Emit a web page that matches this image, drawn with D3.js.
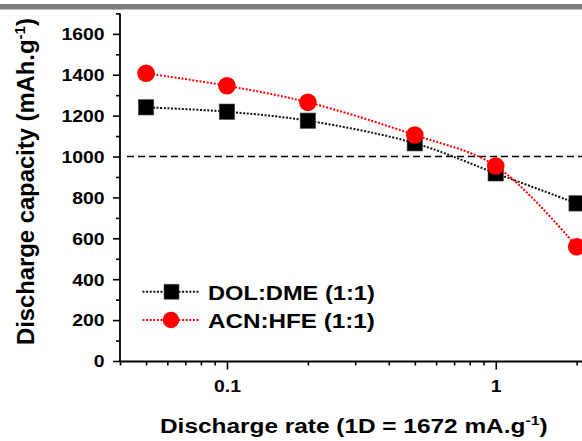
<!DOCTYPE html>
<html><head><meta charset="utf-8">
<script src="https://cdn.jsdelivr.net/npm/d3@7"></script>
<style>
html,body{margin:0;padding:0;background:#fff;overflow:hidden;}
svg{display:block;font-family:"Liberation Sans",Arial,sans-serif;font-weight:bold;}
</style>
</head><body>
<svg id="c" width="582" height="441"></svg>
<script>
// ---- data ----
const rates = [0.05, 0.1, 0.2, 0.5, 1, 2];
const dolDme = [1241, 1219, 1175, 1065, 918, 771];
const acnHfe = [1407, 1346, 1265, 1105, 954, 559];
const seriesNames = ["DOL:DME (1:1)", "ACN:HFE (1:1)"];
const yMajorTicks = [0, 200, 400, 600, 800, 1000, 1200, 1400, 1600];
const yMinorTicks = [100, 300, 500, 700, 900, 1100, 1300, 1500, 1700];
const xMajorTicks = [0.1, 1];
const xTickLabels = ["0.1", "1"];
const xMinorTicks = [0.04, 0.05, 0.06, 0.07, 0.08, 0.09, 0.2, 0.3, 0.4, 0.5, 0.6, 0.7, 0.8, 0.9, 2, 3];
const refValue = 1000;

const svg = d3.select("#c");
svg.append("rect").attr("width", 582).attr("height", 441).attr("fill", "#fff");
svg.append("rect").attr("x", 0).attr("y", 4).attr("width", 582).attr("height", 5.5).attr("fill", "#7d7d7d");

const x = d3.scaleLog().domain([0.04, 3]).range([120, 624]);
const y = d3.scaleLinear().domain([0, 1700]).range([361, 13.4]);
const axisY = 361.5, axisX = 120;

// clip region for plot content
svg.append("defs").append("clipPath").attr("id", "clip")
  .append("rect").attr("x", 120).attr("y", 0).attr("width", 470).attr("height", 362);

// reference dashed line
svg.append("line")
  .attr("x1", 127).attr("x2", 590)
  .attr("y1", y(refValue)).attr("y2", y(refValue))
  .attr("stroke", "#000").attr("stroke-width", 1.6).attr("stroke-dasharray", "7,4");

// axes
function styleAxis(g) {
  g.select(".domain").attr("stroke", "#000").attr("stroke-width", 1.8);
  g.selectAll(".tick line").attr("stroke", "#000").attr("stroke-width", 1.6);
}
const gyMinor = svg.append("g").attr("transform", `translate(${axisX},0)`)
  .call(d3.axisLeft(y).tickValues(yMinorTicks).tickSize(4).tickSizeOuter(0).tickFormat(""));
styleAxis(gyMinor);
const gy = svg.append("g").attr("transform", `translate(${axisX},0)`)
  .call(d3.axisLeft(y).tickValues(yMajorTicks).tickSize(7).tickSizeOuter(0).tickFormat(d3.format("d")));
styleAxis(gy);
gy.select(".domain").attr("d", `M0,${y(1700)}V${axisY}`);
gy.selectAll(".tick text").attr("x", -15.5).attr("dy", "0.36em")
  .attr("font-size", 16.3).attr("font-weight", "bold").attr("fill", "#000")
  .attr("font-family", '"Liberation Sans",Arial,sans-serif');

const gxMinor = svg.append("g").attr("transform", `translate(0,${axisY})`)
  .call(d3.axisBottom(x).tickValues(xMinorTicks).tickSize(4).tickSizeOuter(0).tickFormat(""));
styleAxis(gxMinor);
const gx = svg.append("g").attr("transform", `translate(0,${axisY})`)
  .call(d3.axisBottom(x).tickValues(xMajorTicks).tickSize(8).tickSizeOuter(0)
    .tickFormat((d, i) => xTickLabels[i]));
styleAxis(gx);
gx.select(".domain").attr("d", `M${axisX},0H600`);
gxMinor.select(".domain").remove();
gyMinor.select(".domain").remove();
gx.selectAll(".tick text").attr("y", 30.2).attr("dy", 0)
  .attr("font-size", 16.3).attr("font-weight", "bold").attr("fill", "#000")
  .attr("font-family", '"Liberation Sans",Arial,sans-serif');

function stretch(sel, f) {
  sel.each(function () {
    const w = this.getComputedTextLength();
    d3.select(this).attr("textLength", w * f).attr("lengthAdjust", "spacingAndGlyphs");
  });
}
stretch(gy.selectAll(".tick text"), 1.19);
stretch(gx.selectAll(".tick text"), 1.19);

// series lines
const line = d3.line().x(d => x(d[0])).y(d => y(d[1])).curve(d3.curveCatmullRom.alpha(0.5));
const plot = svg.append("g").attr("clip-path", "url(#clip)");
const s1 = rates.map((r, i) => [r, dolDme[i]]);
const s2 = rates.map((r, i) => [r, acnHfe[i]]);
const sq = 15.5, rad = 8.8;

plot.append("path").attr("d", line(s1)).attr("fill", "none")
  .attr("stroke", "#111").attr("stroke-width", 2).attr("stroke-dasharray", "2,1.6");
plot.selectAll("rect.sq").data(s1).join("rect").attr("class", "sq")
  .attr("x", d => x(d[0]) - sq / 2).attr("y", d => y(d[1]) - sq / 2)
  .attr("width", sq).attr("height", sq).attr("fill", "#000").attr("stroke", "#555").attr("stroke-width", 0.6);

plot.append("path").attr("d", line(s2)).attr("fill", "none")
  .attr("stroke", "#ff0000").attr("stroke-width", 2).attr("stroke-dasharray", "2,1.6");
plot.selectAll("circle.ci").data(s2).join("circle").attr("class", "ci")
  .attr("cx", d => x(d[0])).attr("cy", d => y(d[1])).attr("r", rad).attr("fill", "#ff0000");

// legend
const leg = svg.append("g");
const legItems = [{ name: seriesNames[0], color: "#111", cy: 291.7, shape: "sq" },
                  { name: seriesNames[1], color: "#ff0000", cy: 320, shape: "ci" }];
legItems.forEach(it => {
  leg.append("line").attr("x1", 142.5).attr("x2", 200).attr("y1", it.cy).attr("y2", it.cy)
    .attr("stroke", it.color).attr("stroke-width", 2).attr("stroke-dasharray", "2,1.6");
  if (it.shape === "sq") {
    leg.append("rect").attr("x", 171.5 - 7.5).attr("y", it.cy - 7.5).attr("width", 15).attr("height", 15)
      .attr("fill", "#000").attr("stroke", "#555").attr("stroke-width", 0.6);
  } else {
    leg.append("circle").attr("cx", 171).attr("cy", it.cy).attr("r", 8.3).attr("fill", "#ff0000");
  }
  const t = leg.append("text").attr("x", 0).attr("y", 0).attr("font-size", 21).attr("fill", "#000")
    .text(it.name);
  const w = t.node().getComputedTextLength();
  t.attr("transform", `translate(208,${it.cy + 7.8}) scale(${167 / w},1)`);
});

// x title
const xt = svg.append("text").attr("font-size", 20).attr("fill", "#000").attr("text-anchor", "start");
xt.append("tspan").text("Discharge rate (1D = 1672 mA.g");
xt.append("tspan").attr("font-size", 13).attr("dy", -8).text("-1");
xt.append("tspan").attr("dy", 8).text(")");
{
  const w = xt.node().getBBox().width;
  xt.attr("transform", `translate(160,433) scale(${388 / w},1)`);
}

// y title
const yt = svg.append("text").attr("font-size", 23.5).attr("fill", "#000").attr("text-anchor", "start");
yt.append("tspan").text("Discharge capacity (mAh.g");
yt.append("tspan").attr("font-size", 15).attr("dy", -9).text("-1");
yt.append("tspan").attr("dy", 9).text(")");
{
  const w = yt.node().getBBox().width;
  yt.attr("transform", `translate(33.5,345) rotate(-90) scale(${327 / w},1)`);
}
</script>
</body></html>
